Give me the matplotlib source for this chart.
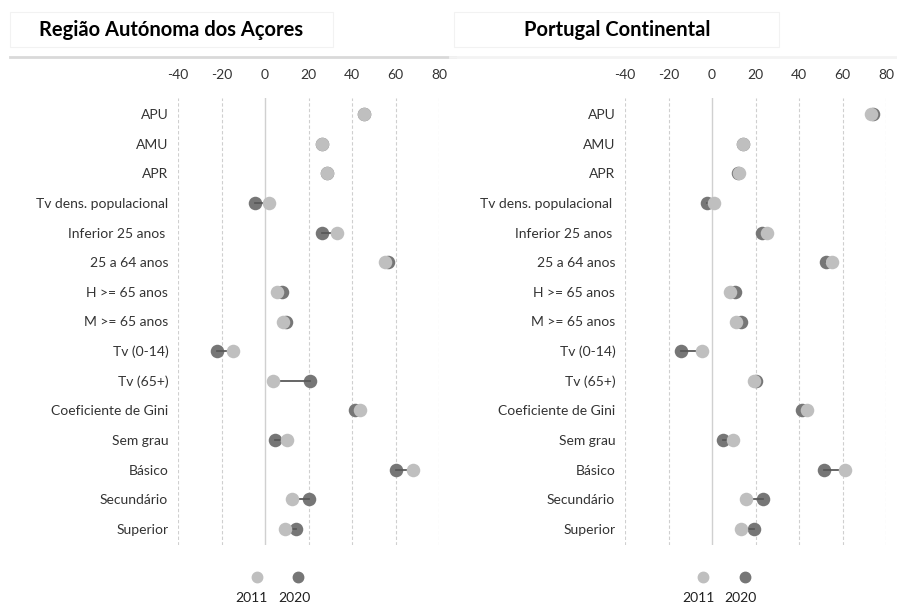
import matplotlib
matplotlib.use("Agg")
import matplotlib.pyplot as plt
from matplotlib.patches import Rectangle
from matplotlib.lines import Line2D

plt.rcParams['font.family'] = ['Lato', 'DejaVu Sans']

cats_left = ["APU", "AMU", "APR", "Tv dens. populacional", "Inferior 25 anos ",
             "25 a 64 anos", "H >= 65 anos", "M >= 65 anos", "Tv (0-14)", "Tv (65+)",
             "Coeficiente de Gini", "Sem grau", "Básico", "Secundário", "Superior"]
cats_right = ["APU", "AMU", "APR", "Tv dens. populacional ", "Inferior 25 anos ",
              "25 a 64 anos", "H >= 65 anos", "M >= 65 anos", "Tv (0-14)", "Tv (65+)",
              "Coeficiente de Gini", "Sem grau", "Básico", "Secundário", "Superior"]

acores_2011 = [45.5, 26.2, 28.4, 2.0, 33.0, 55.2, 5.4, 8.1, -14.6, 3.5, 43.7, 10.1, 68.2, 12.4, 9.2]
acores_2020 = [45.5, 26.2, 28.6, -4.4, 26.2, 56.7, 7.7, 9.5, -21.9, 20.8, 41.4, 4.7, 60.2, 20.4, 14.3]
cont_2011 = [73.0, 14.1, 12.6, 0.7, 25.3, 55.2, 8.1, 11.0, -4.6, 19.1, 43.7, 9.7, 61.0, 15.6, 13.2]
cont_2020 = [74.2, 14.1, 11.8, -2.3, 23.0, 52.6, 10.4, 13.5, -14.3, 20.4, 41.4, 5.0, 51.6, 23.4, 19.1]

titles = ["Região Autónoma dos Açores", "Portugal Continental"]
years = ["2011", "2020"]
xticks = [-40, -20, 0, 20, 40, 60, 80]

C_LIGHT = "#bfbfbf"
C_DARK = "#767676"
C_LINE = "#595959"
C_TXT = "#333333"

W, H = 897, 603
fig = plt.figure(figsize=(W / 100, H / 100), dpi=100)

def fx(px):
    return px / W

def fy(py):
    return 1 - py / H

panels = [
    dict(ax_left=178, cats=cats_left, v11=acores_2011, v20=acores_2020, title=titles[0],
         title_x=171, box=(10, 333), line=(10, 455), leg_m=(257, 298), leg_t=(251, 294)),
    dict(ax_left=625, cats=cats_right, v11=cont_2011, v20=cont_2020, title=titles[1],
         title_x=617, box=(454, 779), line=(450, 897), leg_m=(703, 745), leg_t=(698, 740)),
]

ax_w = 261
ax_top, ax_bot = 98, 545

for p in panels:
    ax = fig.add_axes([fx(p["ax_left"]), fy(ax_bot), ax_w / W, (ax_bot - ax_top) / H])
    n = len(p["cats"])
    ys = list(range(n))
    ax.set_xlim(-40, 80)
    ax.set_ylim(n - 1 + 0.54, -0.54)
    for t in xticks:
        if t == 0:
            ax.axvline(t, color="#d0d0d0", lw=1.0, zorder=0)
        else:
            ax.axvline(t, color="#cfcfcf", lw=0.8, ls=(0, (3, 2)), zorder=0)
    ax.scatter(p["v20"], ys, s=95, color=C_DARK, zorder=2, linewidths=0)
    for y, a, b in zip(ys, p["v11"], p["v20"]):
        ax.plot([a, b], [y, y], color=C_LINE, lw=1.3, zorder=3)
    ax.scatter(p["v11"], ys, s=95, color=C_LIGHT, zorder=4, linewidths=0)
    ax.set_yticks(ys)
    ax.set_yticklabels(p["cats"], fontsize=10, color=C_TXT)
    ax.set_xticks(xticks)
    ax.set_xticklabels([str(t) for t in xticks], fontsize=10, color=C_TXT)
    ax.xaxis.tick_top()
    ax.tick_params(axis="x", length=0, pad=12)
    ax.tick_params(axis="y", length=0, pad=7)
    for s in ax.spines.values():
        s.set_visible(False)
    ax.patch.set_alpha(0)

    # title box
    x0, x1 = p["box"]
    fig.patches.append(Rectangle((fx(x0), fy(47)), (x1 - x0) / W, 35 / H,
                                 transform=fig.transFigure, fill=False,
                                 edgecolor="#f2f2f2", lw=0.8))
    fig.text(fx(p["title_x"]), fy(30), p["title"], fontsize=14.5, fontweight="bold",
             ha="center", va="center", color="black")
    l0, l1 = p["line"]
    fig.lines.append(Line2D([fx(l0), fx(l1)], [fy(57), fy(57)], transform=fig.transFigure,
                            color="#d9d9d9" if l0 < 100 else "#f3f3f3", lw=2))

    # legend
    for (mx, tx, col, yr) in zip(p["leg_m"], p["leg_t"], [C_LIGHT, C_DARK], years):
        fig.lines.append(Line2D([fx(mx)], [fy(577)], transform=fig.transFigure,
                                marker="o", ms=7.5, color=col, mec=col, ls="none"))
        fig.text(fx(tx), fy(598), yr, fontsize=10, ha="center", va="center", color="#202020")

fig.savefig("out.png", dpi=100)
